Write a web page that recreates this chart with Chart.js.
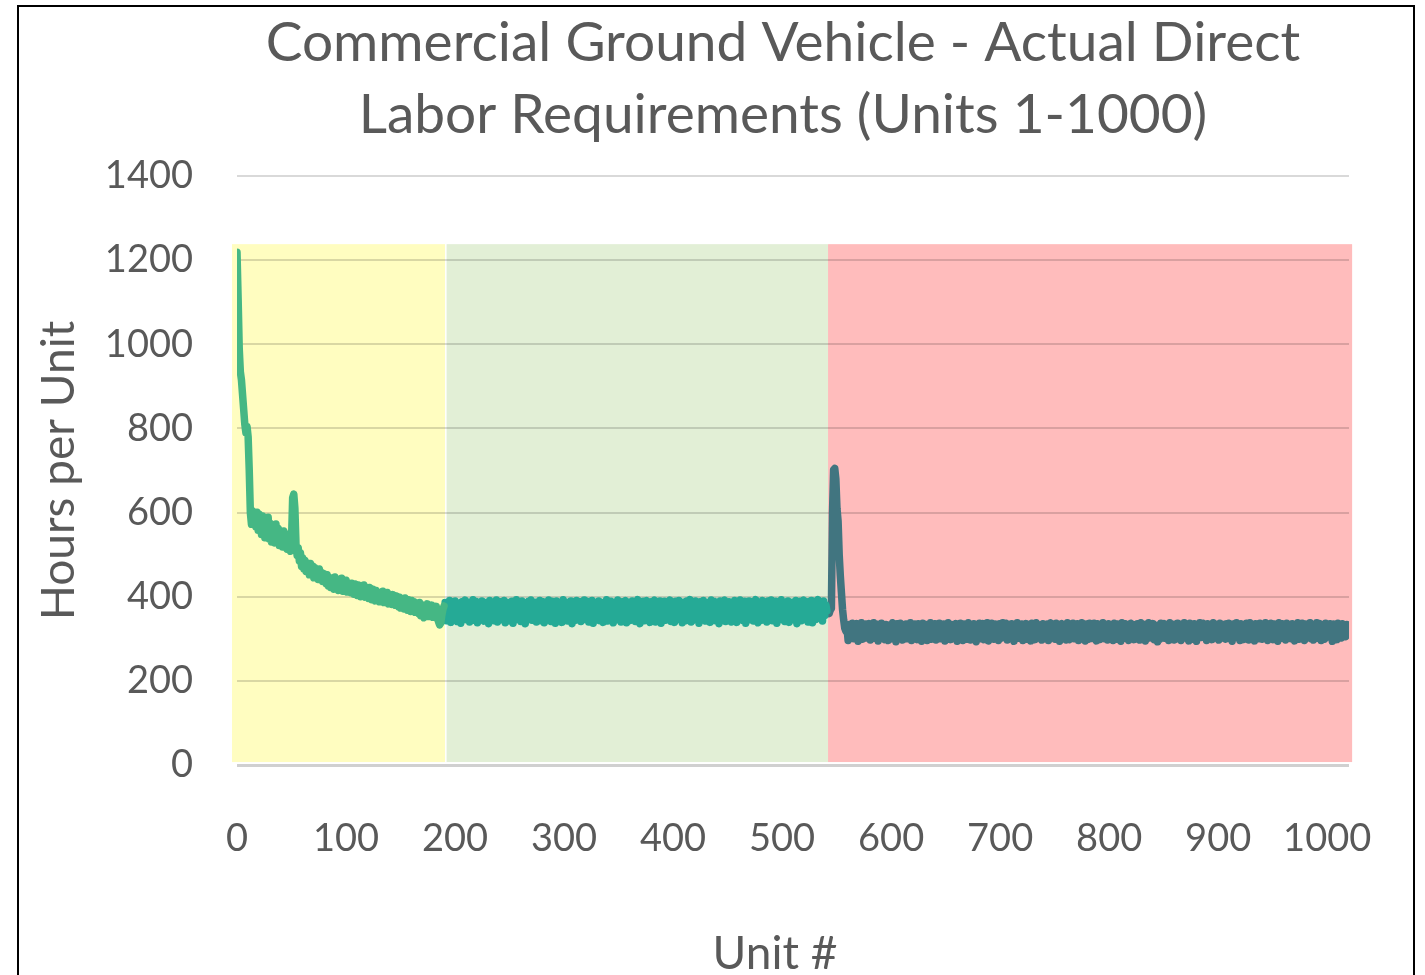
<!DOCTYPE html>
<html>
<head>
<meta charset="utf-8">
<title>Commercial Ground Vehicle - Actual Direct Labor Requirements</title>
<script src="https://cdn.jsdelivr.net/npm/chart.js@4.4.1/dist/chart.umd.min.js"></script>
<style>
  html, body { margin: 0; padding: 0; background: #ffffff; overflow: hidden; }
  #wrap { position: relative; width: 1425px; height: 975px; }
  #chart { position: absolute; left: 0; top: 0; }
  #frame { position: absolute; left: 17px; top: 5px; width: 1398px; height: 1100px;
           box-sizing: border-box; border: 2px solid #000; pointer-events: none; }
</style>
</head>
<body>
<div id="wrap">
  <canvas id="chart" width="1425" height="975"></canvas>
  <div id="frame"></div>
</div>
<script>
// ---- Chart text ----
const titleLines = ['Commercial Ground Vehicle - Actual Direct', 'Labor Requirements (Units 1-1000)'];
const xAxisTitle = 'Unit #';
const yAxisTitle = 'Hours per Unit';

// ---- Axis ticks ----
const xTickValues = [0, 100, 200, 300, 400, 500, 600, 700, 800, 900, 1000];
const xTickLabels = ['0', '100', '200', '300', '400', '500', '600', '700', '800', '900', '1000'];
const yTickValues = [0, 200, 400, 600, 800, 1000, 1200, 1400];
const yTickLabels = ['0', '200', '400', '600', '800', '1000', '1200', '1400'];

// ---- Production phases (shaded bands, in unit / hour coordinates) ----
const phaseNames = ['Learning', 'Steady state', 'Post-change'];
const bandStartUnits = [-3.5, 189.3, 532.0];
const bandEndUnits = [187.9, 532.0, 1002.8];
const bandTopHours = 1238;
const bandBottomHours = 7;
const bandColors = ['#FFFDC0', '#E2EFD6', '#FFBCBC'];
const lineColors = ['#45B784', '#25AA96', '#417580'];

// ---- Actual direct labor hours per unit ----
// Learning phase: units 1-187
const learningFirstUnit = 1;
const learningHours = [
  1219, 1110, 990, 935, 915, 880, 845, 810, 790, 805, 780, 700, 600, 572, 604, 580, 598, 566, 601, 558,
  596, 570, 548, 592, 560, 540, 586, 552, 589, 537, 574, 530, 568, 545, 528, 573, 536, 562, 522, 557,
  540, 518, 556, 528, 549, 513, 545, 522, 508, 537, 635, 644, 610, 525, 498, 516, 485, 504, 472, 492,
  466, 486, 460, 481, 468, 452, 479, 456, 473, 445, 469, 450, 463, 441, 466, 447, 458, 436, 455, 440,
  431, 452, 426, 446, 422, 443, 429, 418, 447, 421, 440, 415, 437, 420, 444, 413, 435, 418, 439, 411,
  433, 415, 410, 432, 413, 406, 430, 410, 403, 428, 407, 400, 425, 404, 428, 399, 420, 402, 396, 422,
  402, 393, 418, 396, 390, 415, 394, 411, 388, 410, 391, 413, 386, 408, 389, 410, 383, 405, 387, 382,
  405, 385, 380, 402, 382, 376, 399, 373, 395, 377, 371, 397, 374, 368, 393, 372, 365, 391, 369, 388,
  363, 385, 366, 360, 386, 355, 381, 361, 350, 378, 358, 383, 353, 376, 356, 380, 351, 373, 354, 377,
  348, 341, 333, 337, 356, 370, 378
];

// Steady-state phase: units 188-531
const steadyFirstUnit = 188;
const steadyHours = [
  386, 343, 381, 352, 391, 339, 377, 385, 346, 390, 357, 341, 383, 374, 337, 388, 350, 379, 392, 345,
  368, 387, 340, 382, 355, 393, 344, 376, 389, 338, 384, 361, 347, 390, 372, 342, 386, 353, 380, 336,
  391, 349, 378, 387, 343, 369, 392, 340, 383, 356, 388, 345, 375, 391, 338, 381, 351, 386, 366, 342,
  389, 337, 380, 359, 393, 346, 371, 385, 341, 390, 352, 377, 336, 384, 364, 389, 348, 392, 344, 379,
  354, 387, 340, 383, 370, 391, 343, 376, 388, 338, 385, 357, 346, 392, 373, 341, 389, 350, 382, 337,
  390, 362, 345, 386, 379, 339, 393, 351, 374, 387, 342, 381, 355, 390, 336, 384, 367, 344, 391, 348,
  377, 388, 341, 385, 358, 392, 346, 372, 389, 340, 383, 353, 391, 337, 379, 386, 349, 374, 390, 343,
  387, 356, 339, 384, 376, 393, 342, 381, 350, 389, 363, 338, 386, 371, 345, 392, 354, 380, 340, 388,
  347, 383, 391, 338, 375, 387, 352, 344, 390, 368, 385, 341, 379, 393, 349, 336, 384, 360, 389, 343,
  382, 391, 345, 374, 339, 388, 357, 383, 392, 340, 371, 386, 348, 390, 337, 380, 355, 389, 344, 385,
  351, 378, 392, 341, 386, 363, 339, 389, 375, 346, 391, 353, 384, 338, 387, 370, 343, 390, 359, 381,
  393, 340, 385, 352, 376, 390, 344, 382, 337, 388, 366, 349, 391, 378, 342, 386, 356, 384, 339, 392,
  348, 381, 389, 343, 373, 387, 336, 390, 358, 345, 384, 392, 341, 379, 353, 388, 365, 340, 386, 350,
  391, 374, 339, 385, 347, 392, 361, 382, 343, 389, 337, 383, 356, 390, 345, 377, 388, 342, 381, 393,
  352, 338, 387, 369, 344, 391, 380, 348, 386, 340, 390, 359, 375, 392, 343, 384, 351, 389, 337, 382,
  388, 346, 393, 355, 379, 341, 386, 364, 390, 339, 383, 350, 387, 372, 345, 391, 336, 380, 357, 389,
  343, 384, 392, 348, 371, 388, 340, 385, 354, 391, 338, 377, 389, 346, 382, 393, 351, 367, 386, 342,
  390, 355, 381, 366
];

// Post-change phase: units 532-1000
const postChangeFirstUnit = 532;
const postChangeHours = [
  365, 360, 368, 372, 600, 702, 705, 680, 610, 580, 500, 450, 410, 370, 345, 325, 318,
  329, 296, 334, 305, 321, 337, 300, 326, 312, 336, 294, 331, 318, 338, 299, 327, 308, 335, 302, 322,
  336, 297, 330, 315, 338, 301, 324, 335, 295, 332, 310, 337, 303, 328, 298, 334, 319, 296, 333, 306,
  325, 338, 299, 331, 293, 336, 314, 302, 337, 320, 297, 333, 307, 335, 300, 329, 316, 338, 296, 327,
  304, 335, 318, 298, 336, 309, 331, 294, 337, 323, 301, 334, 296, 330, 313, 338, 299, 326, 305, 336,
  297, 332, 311, 337, 300, 328, 317, 335, 295, 333, 306, 338, 320, 298, 334, 303, 329, 312, 336, 294,
  331, 301, 337, 322, 296, 335, 308, 330, 299, 338, 315, 297, 333, 304, 336, 319, 293, 332, 310, 337,
  300, 327, 336, 298, 334, 312, 338, 295, 330, 305, 337, 321, 299, 335, 309, 328, 296, 336, 317, 302,
  338, 303, 325, 337, 297, 333, 314, 300, 336, 318, 294, 332, 307, 338, 301, 329, 311, 335, 296, 330,
  313, 336, 299, 331, 320, 295, 337, 306, 334, 298, 338, 316, 302, 333, 324, 297, 336, 309, 330, 300,
  335, 296, 328, 338, 304, 332, 317, 299, 337, 311, 334, 294, 326, 336, 302, 331, 319, 297, 338, 307,
  298, 334, 315, 337, 300, 329, 308, 336, 296, 333, 321, 338, 303, 327, 295, 335, 312, 299, 337, 318,
  332, 301, 337, 310, 295, 336, 323, 298, 334, 306, 338, 314, 300, 331, 297, 336, 320, 304, 333, 296,
  337, 312, 299, 335, 303, 330, 294, 338, 317, 301, 336, 308, 333, 296, 327, 337, 305, 322, 298, 334,
  306, 336, 320, 297, 338, 313, 300, 332, 295, 335, 324, 338, 302, 329, 311, 336, 298, 331, 316, 293,
  333, 299, 337, 308, 326, 336, 301, 334, 314, 296, 338, 305, 330, 318, 297, 335, 310, 337, 300, 328,
  296, 335, 313, 338, 302, 331, 319, 295, 337, 307, 333, 299, 336, 322, 294, 334, 311, 338, 303, 325,
  337, 304, 329, 296, 336, 315, 300, 333, 298, 338, 312, 335, 306, 327, 297, 337, 319, 302, 334, 309,
  299, 336, 321, 337, 300, 332, 294, 335, 317, 303, 338, 310, 331, 296, 336, 324, 298, 334, 307, 337,
  315, 297, 338, 305, 333, 320, 295, 336, 311, 334, 300, 337, 318, 299, 332, 306, 338, 313, 296, 335,
  302, 337, 326, 298, 335, 309, 331, 294, 338, 316, 301, 336, 312, 333, 297, 337, 304, 329, 319, 300,
  336, 310, 295, 334, 322, 338, 299, 330, 306, 337, 314, 296, 335, 303, 332, 318, 338, 300, 327, 297,
  334, 308, 338, 301, 325, 336, 296, 333, 315, 299, 337, 311, 331, 304, 336, 320, 294, 335, 309, 330,
  298, 337, 317, 333, 302, 336, 312, 329, 305, 334, 320, 326
];

// ---- Styling ----
const textColor = '#595959';
const fontFamily = 'Lato, "Open Sans", "Noto Sans", sans-serif';

function toPoints(firstUnit, hours) {
  return hours.map((h, i) => ({ x: firstUnit + i, y: h }));
}

function lineDataset(label, firstUnit, hours, color) {
  return {
    label,
    data: toPoints(firstUnit, hours),
    borderColor: color,
    backgroundColor: color,
    borderWidth: 7.5,
    borderJoinStyle: 'round',
    borderCapStyle: 'round',
    pointRadius: 0,
    tension: 0,
    fill: false,
    xAxisID: 'x',
    yAxisID: 'y'
  };
}

// Shaded phase bands, placed through the chart's own scales, drawn below the grid.
const phaseBandsPlugin = {
  id: 'phaseBands',
  beforeDraw(chart) {
    const { ctx, scales } = chart;
    const x = scales.x, y = scales.y;
    const top = y.getPixelForValue(bandTopHours);
    const bottom = y.getPixelForValue(bandBottomHours);
    ctx.save();
    bandColors.forEach((color, i) => {
      const left = x.getPixelForValue(bandStartUnits[i]);
      const right = x.getPixelForValue(bandEndUnits[i]);
      ctx.fillStyle = color;
      ctx.fillRect(left, top, right - left, bottom - top);
    });
    ctx.restore();
  }
};

// Free-standing captions: the two-line heading and the horizontal axis name.
const captionsPlugin = {
  id: 'captions',
  afterDraw(chart, args, opts) {
    const { ctx } = chart;
    ctx.save();
    ctx.fillStyle = opts.color;
    ctx.textAlign = 'center';
    ctx.textBaseline = 'alphabetic';
    opts.items.forEach(item => {
      ctx.font = `normal ${item.size}px ${fontFamily}`;
      item.lines.forEach((line, i) => {
        ctx.fillText(line, item.centerX, item.baseline + i * (item.lineGap || 0));
      });
    });
    ctx.restore();
  }
};

Chart.defaults.font.family = fontFamily;

new Chart(document.getElementById('chart'), {
  type: 'line',
  data: {
    datasets: [
      lineDataset(phaseNames[0], learningFirstUnit, learningHours, lineColors[0]),
      lineDataset(phaseNames[1], steadyFirstUnit, steadyHours, lineColors[1]),
      lineDataset(phaseNames[2], postChangeFirstUnit, postChangeHours, lineColors[2])
    ]
  },
  options: {
    responsive: false,
    animation: false,
    devicePixelRatio: 1,
    layout: { padding: { left: 0, top: 176, right: 76, bottom: 0 } },
    plugins: {
      legend: { display: false },
      tooltip: { enabled: false },
      title: { display: false },
      captions: {
        color: textColor,
        items: [
          { lines: titleLines, size: 55, centerX: 783, baseline: 61, lineGap: 72 },
          { lines: [xAxisTitle], size: 46, centerX: 775, baseline: 969 }
        ]
      }
    },
    scales: {
      x: {
        type: 'linear',
        display: false,
        min: 1,
        max: 1000
      },
      xTicks: {
        type: 'linear',
        position: 'bottom',
        min: 0,
        max: 1020,
        afterBuildTicks(scale) {
          scale.ticks = xTickValues.map(v => ({ value: v }));
        },
        afterFit(scale) { scale.height = 210; },
        grid: { display: false, drawTicks: false },
        border: { display: false },
        ticks: {
          autoSkip: false,
          maxRotation: 0,
          padding: 51,
          color: textColor,
          font: { family: fontFamily, size: 38, lineHeight: 1.2 },
          callback: (value, index) => xTickLabels[index]
        }
      },
      y: {
        type: 'linear',
        position: 'left',
        min: 0,
        max: 1400,
        afterBuildTicks(scale) {
          scale.ticks = yTickValues.map(v => ({ value: v }));
        },
        afterFit(scale) { scale.width = 237; },
        border: { display: false },
        grid: {
          drawTicks: false,
          color: ctx => (ctx.tick && ctx.tick.value === 0) ? '#d0d0d0' : 'rgba(0,0,0,0.15)',
          lineWidth: ctx => (ctx.tick && ctx.tick.value === 0) ? 3 : 2
        },
        ticks: {
          padding: 44,
          color: textColor,
          font: { family: fontFamily, size: 38, lineHeight: 1.2 },
          callback: (value, index) => yTickLabels[index]
        },
        title: {
          display: true,
          text: yAxisTitle,
          color: textColor,
          font: { family: fontFamily, size: 46, lineHeight: 1.2 },
          padding: { top: 32, bottom: 0 }
        }
      }
    }
  },
  plugins: [phaseBandsPlugin, captionsPlugin]
});
</script>
</body>
</html>
